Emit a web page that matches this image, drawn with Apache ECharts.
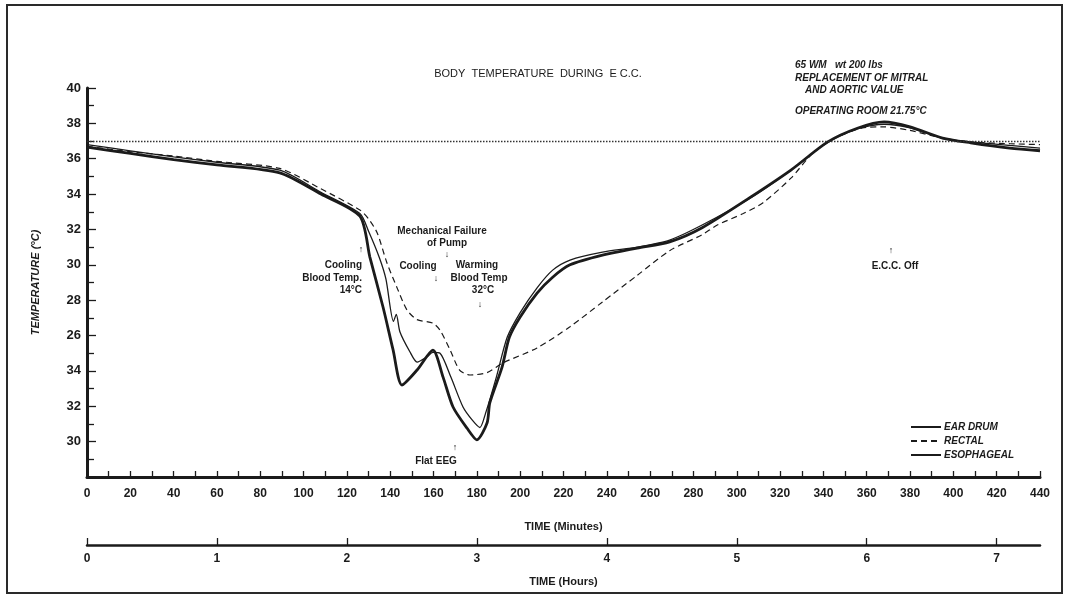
<!DOCTYPE html>
<html>
<head>
<meta charset="utf-8">
<script src="https://cdn.jsdelivr.net/npm/echarts@6/dist/echarts.min.js"></script>
<style>
html,body{margin:0;padding:0;background:#fff;}
#c{width:1068px;height:601px;}
</style>
</head>
<body>
<div id="c"></div>
<script>
// ---- data ----
const earTime = [0,20,40,60,89,108,126,130,135,138,141.5,142.8,144.5,149,152.4,157,159.7,163,168,173.6,178,181.4,184,189,194,200,207.8,215,223,238,254,269,284,306,325,342,356,368,380,395,408,426,440];
const earTemp = [36.8,36.45,36.1,35.8,35.35,34.1,32.9,31.9,30.4,29.2,26.8,27.2,26.2,25.1,24.5,24.8,25.05,25.0,23.65,21.96,21.2,20.8,21.6,23.65,25.9,27.3,28.7,29.7,30.27,30.72,31.0,31.4,32.25,33.75,35.35,36.95,37.7,37.95,37.75,37.15,36.95,36.75,36.6];

const rectalTime = [0,20,40,60,89,108,126,130,134,138.5,143,147.7,152.4,159.7,163,167.6,172,176.8,184.7,192,207.8,223,238,254,269,284,291,303,312,325,335,346,358,368,380,395,408,426,440];
const rectalTemp = [36.7,36.4,36.15,35.85,35.45,34.3,33.1,32.6,31.8,30.1,28.75,27.45,26.9,26.7,26.3,25.2,24.05,23.77,23.9,24.45,25.3,26.5,27.9,29.4,30.8,31.7,32.25,32.9,33.5,34.9,36.3,37.2,37.74,37.8,37.6,37.17,36.95,36.85,36.8];

const esoTime = [0,20,40,60,89,108,126,130.6,136.7,141.3,145.4,152.4,159.7,164.4,169,175.4,180,184.7,186,191.6,195,200,207.8,215,223,238,254,269,284,306,325,342,356,368,380,395,408,426,440];
const esoTemp = [36.65,36.3,35.95,35.65,35.2,34.0,32.75,30.44,27.6,25.2,23.2,24.05,25.18,23.65,21.96,20.77,20.1,21.05,22.2,24.2,25.9,27.05,28.4,29.3,30.0,30.55,30.95,31.3,32.1,33.8,35.36,36.95,37.74,38.08,37.8,37.17,36.9,36.6,36.45];

const refTemp = 37;
const seriesNames = ['EAR DRUM','RECTAL','ESOPHAGEAL'];
const yTickValues = [20,22,24,26,28,30,32,34,36,38,40];
const yTickLabels = ['30','32','34','26','28','30','32','34','36','38','40'];
const minuteTicks = [0,20,40,60,80,100,120,140,160,180,200,220,240,260,280,300,320,340,360,380,400,420,440];
const hourTicks = [0,1,2,3,4,5,6,7];

const pairs = (t, v) => t.map((x, i) => [x, v[i]]);
const INK = '#1b1b1b';
const FONT = 'Liberation Sans';

const chart = echarts.init(document.getElementById('c'), null, {renderer: 'canvas'});

const annot = (x, y, text, opts) => Object.assign({
  type: 'text', x: x, y: y,
  style: Object.assign({text: text, fill: INK, font: 'bold 10px "' + FONT + '"', textAlign: 'center', textVerticalAlign: 'middle'}, opts || {})
});
const ital = {font: 'italic bold 10px "' + FONT + '"', textAlign: 'left'};
const arrowFont = {font: 'bold 9px "' + FONT + '"'};

chart.setOption({
  backgroundColor: '#ffffff',
  animation: false,
  grid: {left: 87, right: 28, top: 88, bottom: 124, containLabel: false},
  legend: {
    data: seriesNames,
    orient: 'vertical',
    left: 905, top: 417,
    itemWidth: 30, itemHeight: 10, itemGap: 4,
    itemStyle: {opacity: 0, borderWidth: 0},
    textStyle: {fontFamily: FONT, fontStyle: 'italic', fontWeight: 'bold', fontSize: 10, color: INK, padding: [0,0,0,-2]}
  },
  xAxis: [{
    type: 'value', min: 0, max: 440, interval: 20,
    position: 'bottom',
    name: 'TIME (Minutes)', nameLocation: 'middle', nameGap: 44,
    nameTextStyle: {fontFamily: FONT, fontWeight: 'bold', fontSize: 11, color: INK},
    axisLine: {lineStyle: {color: INK, width: 3}},
    axisTick: {inside: true, length: 6, lineStyle: {color: INK, width: 1.3}},
    minorTick: {show: true, splitNumber: 2, length: 6, lineStyle: {color: INK, width: 1.3}},
    axisLabel: {customValues: minuteTicks, margin: 11, fontFamily: FONT, fontWeight: 'bold', fontSize: 12, color: INK},
    splitLine: {show: false}
  }, {
    type: 'value', min: 0, max: 440,
    position: 'bottom', offset: 68,
    name: 'TIME (Hours)', nameLocation: 'middle', nameGap: 31,
    nameTextStyle: {fontFamily: FONT, fontWeight: 'bold', fontSize: 11, color: INK},
    axisLine: {lineStyle: {color: INK, width: 2.5}},
    axisTick: {inside: true, length: 7, customValues: hourTicks.map(h => h * 60), lineStyle: {color: INK, width: 1.3}},
    axisLabel: {customValues: hourTicks.map(h => h * 60), formatter: v => String(Math.round(v / 60)), margin: 8, fontFamily: FONT, fontWeight: 'bold', fontSize: 12, color: INK},
    splitLine: {show: false}
  }],
  yAxis: {
    type: 'value', min: 18, max: 40, interval: 2,
    name: 'TEMPERATURE (°C)', nameLocation: 'middle', nameGap: 46, nameRotate: 90,
    nameTextStyle: {fontFamily: FONT, fontStyle: 'italic', fontWeight: 'bold', fontSize: 11, color: INK},
    axisLine: {show: true, lineStyle: {color: INK, width: 3}},
    axisTick: {show: true, inside: true, length: 9, lineStyle: {color: INK, width: 1.3}},
    minorTick: {show: true, splitNumber: 2, length: 7, lineStyle: {color: INK, width: 1.3}},
    axisLabel: {customValues: yTickValues, formatter: v => yTickLabels[yTickValues.indexOf(v)], margin: 6, fontFamily: FONT, fontWeight: 'bold', fontSize: 13, color: INK},
    splitLine: {show: false}
  },
  series: [{
    name: seriesNames[0], type: 'line', data: pairs(earTime, earTemp),
    symbol: 'none', smooth: 0.25,
    lineStyle: {color: INK, width: 1.3}, itemStyle: {color: INK},
    markLine: {
      silent: true, symbol: 'none', label: {show: false},
      lineStyle: {color: '#333', width: 1.4, type: [1.5, 1.5]},
      data: [{yAxis: refTemp}]
    }
  }, {
    name: seriesNames[1], type: 'line', data: pairs(rectalTime, rectalTemp),
    symbol: 'none', smooth: 0.25,
    lineStyle: {color: INK, width: 1.2, type: [6, 4]}, itemStyle: {color: INK}
  }, {
    name: seriesNames[2], type: 'line', data: pairs(esoTime, esoTemp),
    symbol: 'none', smooth: 0.25,
    lineStyle: {color: INK, width: 2.8}, itemStyle: {color: INK}
  }],
  graphic: [
    {type: 'rect', shape: {x: 7, y: 5, width: 1055, height: 588}, style: {fill: 'none', stroke: '#2a2a2a', lineWidth: 2}, silent: true},
    annot(538, 74, 'BODY  TEMPERATURE  DURING  E C.C.', {font: '11px "' + FONT + '"'}),
    annot(795, 65, '65 WM   wt 200 lbs', ital),
    annot(795, 78, 'REPLACEMENT OF MITRAL', ital),
    annot(805, 90, 'AND AORTIC VALUE', ital),
    annot(795, 111, 'OPERATING ROOM 21.75°C', ital),
    annot(361, 250, '↑', arrowFont),
    annot(362, 265, 'Cooling', {textAlign: 'right'}),
    annot(362, 278, 'Blood Temp.', {textAlign: 'right'}),
    annot(362, 290, '14°C', {textAlign: 'right'}),
    annot(442, 231, 'Mechanical Failure'),
    annot(447, 243, 'of Pump'),
    annot(447, 255, '↓', arrowFont),
    annot(418, 266, 'Cooling'),
    annot(436, 279, '↓', arrowFont),
    annot(477, 265, 'Warming'),
    annot(479, 278, 'Blood Temp'),
    annot(483, 290, '32°C'),
    annot(480, 305, '↓', arrowFont),
    annot(455, 448, '↑', arrowFont),
    annot(436, 461, 'Flat EEG'),
    annot(891, 251, '↑', arrowFont),
    annot(895, 266, 'E.C.C. Off')
  ]
});
</script>
</body>
</html>
